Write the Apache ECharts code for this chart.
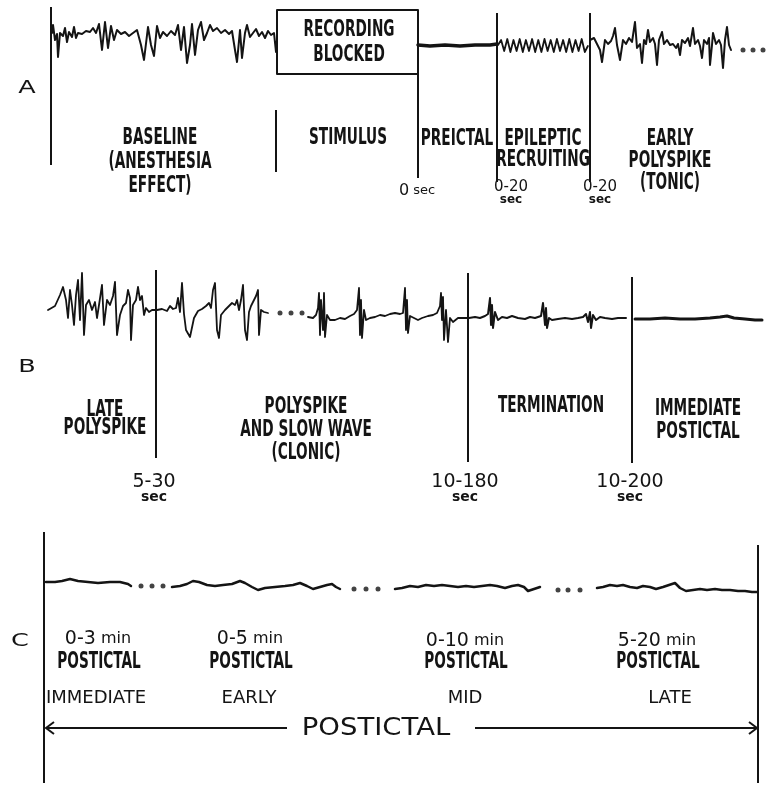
<!DOCTYPE html>
<html>
<head>
<meta charset="utf-8">
<script src="https://cdn.jsdelivr.net/npm/echarts@6.0.0/dist/echarts.min.js"></script>
<style>
html, body { margin: 0; padding: 0; background: #fff; }
#chart { width: 768px; height: 787px; }
</style>
</head>
<body>
<div id="chart"></div>
<script>
// EEG traces, [position along record, amplitude]; amplitude 0 = panel baseline
const baselineA = [[52,9],[53,17],[55,2],[57,8],[58,-15],[60,9],[63,6],[65,14],[67,0],[69,10],[72,5],[74,15],[76,4],[78,9],[82,8],[86,11],[90,10],[93,14],[96,9],[99,18],[102,-8],[105,20],[108,-6],[111,16],[114,2],[117,12],[121,8],[125,10],[129,6],[133,9],[137,12],[141,-3],[144,-18],[148,15],[151,-3],[154,-14],[157,16],[160,4],[163,10],[167,6],[171,11],[175,7],[178,17],[181,-8],[184,15],[187,-21],[190,-3],[192,18],[195,-13],[198,12],[201,20],[204,2],[207,9],[210,17],[213,11],[217,14],[221,9],[225,12],[229,8],[232,11],[235,-8],[237,-20],[240,12],[242,-16],[245,9],[247,17],[250,5],[253,9],[256,13],[259,6],[262,10],[265,4],[268,11],[271,7],[274,9],[276,-10],[277,2]];
const preictalA = [[418,-3],[430,-4],[445,-3],[460,-4],[475,-3],[490,-3],[497,-2]];
const recruitStart = 498, recruitStep = 3.1;
const recruitA = [-3,2,-9,3,-10,2,-9,3,-10,2,-9,3,-10,2,-10,3,-9,2,-10,3,-9,2,-10,3,-10,2,-9,3,-10,-4];
const earlyA = [[590,2],[594,4],[597,-2],[600,-8],[602,-20],[605,2],[608,-2],[611,1],[613,6],[615,14],[617,-3],[620,-18],[623,2],[626,-2],[629,4],[632,0],[635,20],[637,-6],[640,-2],[642,-21],[644,2],[646,-2],[648,12],[650,0],[653,4],[655,-2],[657,-23],[659,2],[662,10],[664,-2],[667,2],[670,-3],[673,-2],[676,-6],[678,-2],[680,-13],[682,2],[685,-1],[688,4],[690,-4],[693,14],[695,-2],[698,2],[700,-4],[702,-16],[704,2],[707,-2],[709,4],[710,-23],[712,-3],[713,9],[716,-2],[719,2],[721,-3],[723,-26],[725,2],[727,15],[729,-3],[731,-8]];
const dotsA = [[743,-8],[753,-8],[763,-8]];
const blockedBox = [[277,32],[418,32],[418,-32],[277,-32],[277,32]];

const lateB = [[48,0],[55,4],[60,15],[63,23],[66,10],[68,-8],[70,20],[72,5],[74,-15],[76,15],[78,30],[80,-10],[82,37],[84,-25],[86,5],[89,10],[92,0],[95,8],[97,-8],[99,5],[102,25],[104,-15],[107,10],[110,5],[113,14],[115,28],[117,-25],[120,-5],[123,4],[126,7],[128,20],[130,12],[131,-30],[133,5],[136,10],[138,23],[140,10],[142,14],[144,-5],[146,2],[149,-2],[152,0],[155,0]];
const clonicB = [[157,0],[162,1],[167,-1],[170,4],[173,1],[176,2],[178,12],[180,-2],[182,27],[184,-4],[186,-20],[190,-27],[194,-8],[198,-1],[202,1],[206,4],[209,7],[211,2],[213,20],[215,27],[217,-20],[219,-28],[221,-5],[225,0],[229,4],[232,7],[235,5],[237,10],[239,0],[241,10],[243,25],[245,-20],[247,-30],[249,-2],[251,4],[253,2],[256,14],[258,20],[259,-25],[261,0],[264,-2],[268,-3]];
const burstB = [[308,-7],[313,-8],[316,-5],[318,2],[319,17],[320,-25],[321,10],[323,-20],[324,17],[325,-27],[327,-5],[330,-10],[335,-10],[340,-8],[345,-9],[350,-6],[354,-4],[357,0],[359,22],[360,-25],[361,10],[362,-28],[364,0],[366,-10],[370,-8],[375,-7],[380,-5],[385,-6],[390,-4],[395,-3],[400,-4],[403,-3],[405,22],[406,-20],[407,10],[408,-23],[410,-6],[414,-8],[418,-10],[422,-8],[428,-6],[433,-5],[437,-3],[440,4],[441,17],[442,-10],[443,13],[444,-30],[446,0],[448,-32],[450,-8],[453,-12],[458,-8],[463,-8],[467,-8]];
const termB = [[469,-8],[475,-7],[480,-8],[485,-6],[488,-4],[490,12],[491,-15],[492,5],[493,-18],[495,-2],[498,-10],[502,-7],[507,-8],[512,-6],[518,-8],[525,-9],[530,-7],[535,-8],[541,-6],[543,7],[545,-15],[546,2],[547,-18],[549,-8],[552,-10],[558,-9],[565,-8],[572,-9],[578,-8],[583,-7],[586,-4],[588,-12],[590,-2],[591,-18],[593,-5],[596,-10],[600,-7],[605,-8],[612,-9],[618,-8],[626,-8]];
const postB = [[635,-9],[650,-9],[665,-8],[680,-9],[695,-9],[710,-8],[720,-7],[727,-6],[734,-8],[745,-9],[755,-10],[762,-10]];
const dotsB = [[280,-3],[291,-3],[302,-3]];

const immediateC = [[46,0],[55,0],[62,1],[70,3],[78,1],[88,0],[98,-1],[110,0],[120,0],[128,-2],[131,-4]];
const earlyC = [[172,-5],[180,-4],[187,-2],[193,1],[199,0],[207,-3],[215,-4],[223,-3],[232,-2],[240,1],[245,-1],[252,-5],[258,-8],[265,-6],[275,-5],[285,-4],[293,-3],[300,-1],[307,-4],[313,-7],[320,-5],[327,-3],[332,-2],[336,-5],[340,-7]];
const midC = [[395,-7],[402,-6],[410,-4],[418,-5],[426,-3],[434,-4],[442,-3],[450,-4],[458,-5],[466,-4],[474,-5],[482,-4],[490,-3],[497,-4],[505,-6],[512,-4],[518,-3],[524,-5],[528,-9],[534,-7],[540,-5]];
const lateC = [[597,-6],[603,-5],[610,-3],[617,-4],[623,-3],[630,-5],[637,-6],[643,-4],[650,-5],[656,-7],[663,-5],[669,-3],[675,-1],[680,-6],[686,-9],[693,-8],[700,-7],[707,-8],[715,-7],[722,-8],[730,-8],[738,-9],[745,-9],[752,-10],[757,-10]];
const dotsC = [[141,-4],[152,-4],[163,-4],[354,-7],[366,-7],[378,-7],[558,-8],[568,-8],[580,-8]];

// phase dividers: [position, top amplitude, bottom amplitude]
const dividersA = [[51,35,-123],[276,-68,-130],[418,-32,-136],[497,29,-140],[590,29,-140]];
const dividersB = [[156,40,-148],[468,37,-152],[632,33,-153]];
const dividersC = [[44,50,-201],[758,37,-201]];

// text
const panelNames = ['A', 'B', 'C'];
const phasesA = [['BASELINE', '(ANESTHESIA', 'EFFECT)'], ['STIMULUS'], ['PREICTAL'], ['EPILEPTIC', 'RECRUITING'], ['EARLY', 'POLYSPIKE', '(TONIC)']];
const phasesB = [['LATE', 'POLYSPIKE'], ['POLYSPIKE', 'AND SLOW WAVE', '(CLONIC)'], ['TERMINATION'], ['IMMEDIATE', 'POSTICTAL']];
const timesA = ['0-20', '0-20'];
const timesB = ['5-30', '10-180', '10-200'];
const durationsC = ['0-3', '0-5', '0-10', '5-20'];
const stagesC = ['IMMEDIATE', 'EARLY', 'MID', 'LATE'];

const INK = '#141414';
const NARROW = '"Liberation Sans Narrow", "DejaVu Sans Condensed", "Arial Narrow", sans-serif';
const ROUND = '"DejaVu Sans", Lato, sans-serif';

function trace(data, g, w) {
    return { type: 'line', xAxisIndex: g, yAxisIndex: g, data: data, symbol: 'none', silent: true, clip: false,
        lineStyle: { color: INK, width: w || 2, join: 'round', cap: 'round' } };
}
function dots(data, g) {
    return { type: 'scatter', xAxisIndex: g, yAxisIndex: g, data: data, symbolSize: 5, silent: true,
        itemStyle: { color: INK } };
}
function dividers(list, g) {
    return { type: 'line', xAxisIndex: g, yAxisIndex: g, data: [], silent: true,
        markLine: { silent: true, symbol: 'none', label: { show: false }, emphasis: { disabled: true },
            lineStyle: { color: INK, width: 2, type: 'solid' },
            data: list.map(d => [{ coord: [d[0], d[1]] }, { coord: [d[0], d[2]] }]) } };
}
function txt(s, x, y, font, extra) {
    return Object.assign({ type: 'text', x: x, y: y, silent: true,
        style: { text: s, fill: INK, font: font, textAlign: 'center', textVerticalAlign: 'middle', align: 'center', verticalAlign: 'middle' } }, extra || {});
}
function narrow(s, x, y) {
    return txt(s, x, y, 'bold 19px ' + NARROW, { scaleX: 0.8, scaleY: 1.2 });
}
function stack(lines, x, y, gap) {
    return lines.map((s, i) => narrow(s, x, y + i * gap));
}
function rich(a, b, x, y, sa, sb) {
    return { type: 'text', x: x, y: y, silent: true,
        style: { text: '{a|' + a + '}{b|' + b + '}', fill: INK, textAlign: 'center', textVerticalAlign: 'middle', align: 'center', verticalAlign: 'middle',
            rich: { a: { fontSize: sa, fontFamily: ROUND, fill: INK }, b: { fontSize: sb, fontFamily: ROUND, fill: INK } } } };
}

const graphics = [];
// panel letters
[[27, 89], [27, 368], [20, 642]].forEach((p, i) => graphics.push(txt(panelNames[i], p[0], p[1], '17px ' + ROUND, { scaleX: 1.5 })));
// A
graphics.push(narrow('RECORDING', 349, 30), narrow('BLOCKED', 349, 55));
[[160, 138, 24], [348, 138, 24], [457, 139, 24], [543, 139, 21], [670, 139, 22]].forEach((p, i) => graphics.push(...stack(phasesA[i], p[0], p[1], p[2])));
graphics.push(rich('0', ' sec', 417, 191, 16, 13));
[511, 600].forEach((x, i) => {
    graphics.push(txt(timesA[i], x, 187, '15px ' + ROUND), txt('sec', x, 200, 'bold 12px ' + ROUND));
});
// B
[[105, 410, 18], [306, 407, 23], [551, 406, 23], [698, 409, 23]].forEach((p, i) => graphics.push(...stack(phasesB[i], p[0], p[1], p[2])));
[154, 465, 630].forEach((x, i) => {
    graphics.push(txt(timesB[i], x, 482, '19px ' + ROUND), txt('sec', x, 497, 'bold 14px ' + ROUND));
});
// C
[[98, 639], [250, 639], [465, 641], [657, 641]].forEach((p, i) => {
    graphics.push(rich(durationsC[i], ' min', p[0], p[1], 19, 16), narrow('POSTICTAL', p[0] + 1, 662));
});
[96, 249, 465, 670].forEach((x, i) => graphics.push(txt(stagesC[i], x, 698, '18px ' + ROUND)));
graphics.push(txt('POSTICTAL', 376, 728, '25px ' + ROUND, { scaleX: 1.1 }));
graphics.push({ type: 'polyline', silent: true, shape: { points: [[287, 728], [46, 728]] }, style: { stroke: INK, lineWidth: 2, fill: null } });
graphics.push({ type: 'polyline', silent: true, shape: { points: [[54, 722], [46, 728], [54, 734]] }, style: { stroke: INK, lineWidth: 2, fill: null } });
graphics.push({ type: 'polyline', silent: true, shape: { points: [[475, 728], [757, 728]] }, style: { stroke: INK, lineWidth: 2, fill: null } });
graphics.push({ type: 'polyline', silent: true, shape: { points: [[749, 722], [757, 728], [749, 734]] }, style: { stroke: INK, lineWidth: 2, fill: null } });

const myChart = echarts.init(document.getElementById('chart'));
myChart.setOption({
    animation: false,
    backgroundColor: '#ffffff',
    grid: [
        { left: 0, right: 0, top: 0, height: 215 },
        { left: 0, right: 0, top: 255, height: 215 },
        { left: 0, right: 0, top: 520, height: 267 }
    ],
    xAxis: [0, 1, 2].map(i => ({ type: 'value', gridIndex: i, min: 0, max: 768, show: false })),
    yAxis: [
        { type: 'value', gridIndex: 0, min: -173, max: 42, show: false },
        { type: 'value', gridIndex: 1, min: -160, max: 55, show: false },
        { type: 'value', gridIndex: 2, min: -205, max: 62, show: false }
    ],
    series: [
        trace(baselineA, 0, 2),
        trace(blockedBox, 0, 2),
        trace(preictalA, 0, 3.5),
        trace(recruitA.map((v, i) => [recruitStart + i * recruitStep, v]), 0, 1.8),
        trace(earlyA, 0, 2),
        dots(dotsA, 0),
        dividers(dividersA, 0),
        trace(lateB, 1, 1.8),
        trace(clonicB, 1, 1.8),
        trace(burstB, 1, 1.8),
        trace(termB, 1, 2),
        trace(postB, 1, 3),
        dots(dotsB, 1),
        dividers(dividersB, 1),
        trace(immediateC, 2, 2.5),
        trace(earlyC, 2, 2.5),
        trace(midC, 2, 2.5),
        trace(lateC, 2, 2.5),
        dots(dotsC, 2),
        dividers(dividersC, 2)
    ],
    graphic: graphics
});
</script>
</body>
</html>
